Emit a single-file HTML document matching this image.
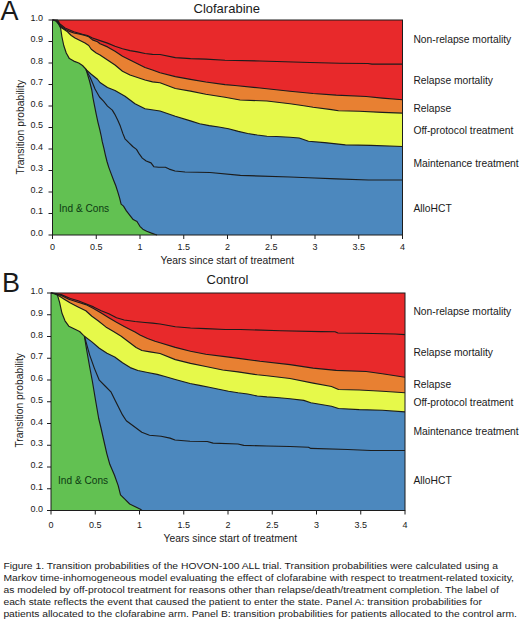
<!DOCTYPE html>
<html><head><meta charset="utf-8"><style>
html,body{margin:0;padding:0;background:#fff;}
svg{display:block;}
text{font-family:"Liberation Sans",sans-serif;fill:#1a1a1a;}
.tk{font-size:9px;}
.lab{font-size:10.3px;}
.ttl{font-size:13px;}
.big{font-size:27px;}
.ax{font-size:10.3px;}
.ic{font-size:10.15px;fill:#0d3a12;}
.cap{font-size:9.7px;}
</style></head><body>
<svg width="520" height="622" viewBox="0 0 520 622">
<rect width="520" height="622" fill="#fff"/>
<rect x="52.5" y="20" width="350.0" height="215" fill="#e8292b"/>
<polygon points="52.50,20.00 56.00,21.00 60.00,25.50 65.00,29.25 68.75,31.10 73.75,33.00 80.00,34.25 85.00,35.50 88.75,36.75 92.50,39.90 97.50,41.75 100.00,43.75 107.50,46.90 115.00,51.25 122.50,56.25 130.00,60.00 137.50,63.75 145.00,67.50 152.50,70.00 160.00,72.80 175.30,76.60 190.50,79.40 205.80,82.00 225.00,84.60 235.00,85.50 260.00,88.00 290.00,91.20 313.10,93.50 336.20,95.10 366.20,96.50 382.30,98.10 402.50,99.70 402.50,235.00 52.50,235.00" fill="#e88032"/>
<polygon points="52.50,20.00 57.00,21.00 60.00,26.75 63.75,29.25 67.50,31.75 71.25,35.50 75.00,38.00 80.00,40.50 85.00,43.00 88.75,45.50 91.25,49.25 96.25,53.00 100.00,55.00 107.50,60.00 115.00,65.00 122.50,71.25 130.00,75.00 137.50,77.50 145.00,80.00 152.50,81.90 160.00,82.70 175.30,88.50 190.50,91.10 205.80,94.20 225.00,97.25 240.00,100.00 266.90,101.00 290.00,103.80 303.80,105.70 313.10,107.30 331.50,109.60 338.50,110.80 359.20,111.20 382.30,112.40 402.50,113.10 402.50,235.00 52.50,235.00" fill="#e6f94a"/>
<polygon points="85.60,69.25 91.25,74.25 97.50,79.25 100.00,82.50 107.50,87.50 115.00,90.50 125.00,96.25 135.00,103.75 145.00,108.75 160.00,111.00 175.30,116.30 190.50,120.90 199.60,123.80 209.20,125.60 218.80,127.00 228.50,128.70 238.30,131.40 247.70,133.50 257.30,135.00 266.90,136.20 276.50,136.50 290.00,137.30 299.20,138.00 308.50,141.20 324.60,142.60 345.40,144.90 370.80,145.40 402.50,146.50 402.50,235.00 85.60,235.00" fill="#4c88be"/>
<polygon points="52.50,20.00 52.50,20.00 57.50,20.00 58.75,21.75 60.60,28.00 61.90,36.75 63.75,45.50 66.25,53.00 69.40,58.60 73.75,61.10 78.75,63.00 82.50,65.50 86.25,69.50 87.50,74.25 89.40,80.50 91.80,90.00 93.00,98.00 94.60,106.10 96.20,114.10 97.90,122.10 99.90,130.20 101.40,137.00 102.20,141.40 103.80,147.90 105.40,155.10 107.00,161.50 108.70,167.10 111.10,173.60 113.50,180.00 115.80,185.80 117.70,191.60 119.70,198.30 121.10,204.10 123.50,206.10 126.40,210.90 129.30,214.70 133.20,219.60 137.00,221.50 139.90,226.30 142.80,229.20 146.70,231.20 151.50,233.10 155.40,234.50 157.00,235.00 52.50,235.00" fill="#62c152"/>
<polyline points="52.50,20.00 56.00,20.50 58.75,23.00 65.00,28.00 73.75,31.75 82.50,34.25 87.50,35.50 92.50,38.00 100.00,40.60 107.50,43.10 115.00,46.25 122.50,48.75 130.00,50.60 137.50,51.90 145.00,53.50 152.50,54.40 160.00,54.50 175.30,57.60 190.50,58.60 205.80,59.10 225.00,60.20 260.00,61.00 285.00,61.75 310.00,62.50 340.00,63.30 368.00,63.50 372.00,64.10 402.50,64.10" fill="none" stroke="#1c1c1c" stroke-width="1.15" stroke-linejoin="round"/>
<polyline points="52.50,20.00 56.00,21.00 60.00,25.50 65.00,29.25 68.75,31.10 73.75,33.00 80.00,34.25 85.00,35.50 88.75,36.75 92.50,39.90 97.50,41.75 100.00,43.75 107.50,46.90 115.00,51.25 122.50,56.25 130.00,60.00 137.50,63.75 145.00,67.50 152.50,70.00 160.00,72.80 175.30,76.60 190.50,79.40 205.80,82.00 225.00,84.60 235.00,85.50 260.00,88.00 290.00,91.20 313.10,93.50 336.20,95.10 366.20,96.50 382.30,98.10 402.50,99.70" fill="none" stroke="#1c1c1c" stroke-width="1.15" stroke-linejoin="round"/>
<polyline points="52.50,20.00 57.00,21.00 60.00,26.75 63.75,29.25 67.50,31.75 71.25,35.50 75.00,38.00 80.00,40.50 85.00,43.00 88.75,45.50 91.25,49.25 96.25,53.00 100.00,55.00 107.50,60.00 115.00,65.00 122.50,71.25 130.00,75.00 137.50,77.50 145.00,80.00 152.50,81.90 160.00,82.70 175.30,88.50 190.50,91.10 205.80,94.20 225.00,97.25 240.00,100.00 266.90,101.00 290.00,103.80 303.80,105.70 313.10,107.30 331.50,109.60 338.50,110.80 359.20,111.20 382.30,112.40 402.50,113.10" fill="none" stroke="#1c1c1c" stroke-width="1.15" stroke-linejoin="round"/>
<polyline points="85.60,69.25 91.25,74.25 97.50,79.25 100.00,82.50 107.50,87.50 115.00,90.50 125.00,96.25 135.00,103.75 145.00,108.75 160.00,111.00 175.30,116.30 190.50,120.90 199.60,123.80 209.20,125.60 218.80,127.00 228.50,128.70 238.30,131.40 247.70,133.50 257.30,135.00 266.90,136.20 276.50,136.50 290.00,137.30 299.20,138.00 308.50,141.20 324.60,142.60 345.40,144.90 370.80,145.40 402.50,146.50" fill="none" stroke="#1c1c1c" stroke-width="1.15" stroke-linejoin="round"/>
<polyline points="86.00,70.00 90.00,77.00 93.00,84.00 95.00,89.00 99.50,97.00 103.50,101.20 107.50,106.10 112.30,110.10 114.70,114.10 117.90,120.50 120.30,126.10 122.80,133.40 125.00,138.80 128.80,142.70 132.70,146.50 136.50,149.40 139.40,154.20 142.30,158.10 146.20,161.00 151.00,162.90 153.80,166.70 158.70,167.20 165.40,167.20 169.20,169.10 175.00,171.00 185.00,172.00 210.00,172.50 240.40,175.40 290.00,177.00 308.50,177.70 336.20,178.90 368.50,180.00 402.50,180.00" fill="none" stroke="#1c1c1c" stroke-width="1.15" stroke-linejoin="round"/>
<polyline points="52.50,20.00 57.50,20.00 58.75,21.75 60.60,28.00 61.90,36.75 63.75,45.50 66.25,53.00 69.40,58.60 73.75,61.10 78.75,63.00 82.50,65.50 86.25,69.50 87.50,74.25 89.40,80.50 91.80,90.00 93.00,98.00 94.60,106.10 96.20,114.10 97.90,122.10 99.90,130.20 101.40,137.00 102.20,141.40 103.80,147.90 105.40,155.10 107.00,161.50 108.70,167.10 111.10,173.60 113.50,180.00 115.80,185.80 117.70,191.60 119.70,198.30 121.10,204.10 123.50,206.10 126.40,210.90 129.30,214.70 133.20,219.60 137.00,221.50 139.90,226.30 142.80,229.20 146.70,231.20 151.50,233.10 155.40,234.50 157.00,235.00" fill="none" stroke="#1c1c1c" stroke-width="1.15" stroke-linejoin="round"/>
<rect x="52.5" y="20" width="350.0" height="215" fill="none" stroke="#1c1c1c" stroke-width="1"/>
<line x1="48.5" y1="235.00" x2="52.5" y2="235.00" stroke="#1c1c1c" stroke-width="1"/>
<text x="43" y="235.50" class="tk" text-anchor="end">0.0</text>
<line x1="48.5" y1="213.50" x2="52.5" y2="213.50" stroke="#1c1c1c" stroke-width="1"/>
<text x="43" y="214.00" class="tk" text-anchor="end">0.1</text>
<line x1="48.5" y1="192.00" x2="52.5" y2="192.00" stroke="#1c1c1c" stroke-width="1"/>
<text x="43" y="192.50" class="tk" text-anchor="end">0.2</text>
<line x1="48.5" y1="170.50" x2="52.5" y2="170.50" stroke="#1c1c1c" stroke-width="1"/>
<text x="43" y="171.00" class="tk" text-anchor="end">0.3</text>
<line x1="48.5" y1="149.00" x2="52.5" y2="149.00" stroke="#1c1c1c" stroke-width="1"/>
<text x="43" y="149.50" class="tk" text-anchor="end">0.4</text>
<line x1="48.5" y1="127.50" x2="52.5" y2="127.50" stroke="#1c1c1c" stroke-width="1"/>
<text x="43" y="128.00" class="tk" text-anchor="end">0.5</text>
<line x1="48.5" y1="106.00" x2="52.5" y2="106.00" stroke="#1c1c1c" stroke-width="1"/>
<text x="43" y="106.50" class="tk" text-anchor="end">0.6</text>
<line x1="48.5" y1="84.50" x2="52.5" y2="84.50" stroke="#1c1c1c" stroke-width="1"/>
<text x="43" y="85.00" class="tk" text-anchor="end">0.7</text>
<line x1="48.5" y1="63.00" x2="52.5" y2="63.00" stroke="#1c1c1c" stroke-width="1"/>
<text x="43" y="63.50" class="tk" text-anchor="end">0.8</text>
<line x1="48.5" y1="41.50" x2="52.5" y2="41.50" stroke="#1c1c1c" stroke-width="1"/>
<text x="43" y="42.00" class="tk" text-anchor="end">0.9</text>
<line x1="48.5" y1="20.00" x2="52.5" y2="20.00" stroke="#1c1c1c" stroke-width="1"/>
<text x="43" y="20.50" class="tk" text-anchor="end">1.0</text>
<line x1="52.50" y1="235" x2="52.50" y2="239" stroke="#1c1c1c" stroke-width="1"/>
<text x="52.50" y="250.40" class="tk" text-anchor="middle">0</text>
<line x1="96.25" y1="235" x2="96.25" y2="239" stroke="#1c1c1c" stroke-width="1"/>
<text x="96.25" y="250.40" class="tk" text-anchor="middle">0.5</text>
<line x1="140.00" y1="235" x2="140.00" y2="239" stroke="#1c1c1c" stroke-width="1"/>
<text x="140.00" y="250.40" class="tk" text-anchor="middle">1</text>
<line x1="183.75" y1="235" x2="183.75" y2="239" stroke="#1c1c1c" stroke-width="1"/>
<text x="183.75" y="250.40" class="tk" text-anchor="middle">1.5</text>
<line x1="227.50" y1="235" x2="227.50" y2="239" stroke="#1c1c1c" stroke-width="1"/>
<text x="227.50" y="250.40" class="tk" text-anchor="middle">2</text>
<line x1="271.25" y1="235" x2="271.25" y2="239" stroke="#1c1c1c" stroke-width="1"/>
<text x="271.25" y="250.40" class="tk" text-anchor="middle">2.5</text>
<line x1="315.00" y1="235" x2="315.00" y2="239" stroke="#1c1c1c" stroke-width="1"/>
<text x="315.00" y="250.40" class="tk" text-anchor="middle">3</text>
<line x1="358.75" y1="235" x2="358.75" y2="239" stroke="#1c1c1c" stroke-width="1"/>
<text x="358.75" y="250.40" class="tk" text-anchor="middle">3.5</text>
<line x1="402.50" y1="235" x2="402.50" y2="239" stroke="#1c1c1c" stroke-width="1"/>
<text x="402.50" y="250.40" class="tk" text-anchor="middle">4</text>
<rect x="51" y="293" width="354" height="217.5" fill="#e8292b"/>
<polygon points="51.00,293.00 55.00,293.80 61.20,295.40 68.80,299.20 78.10,302.30 85.80,304.60 93.50,308.50 101.20,313.10 108.80,317.70 116.50,322.30 124.20,326.50 130.00,329.50 135.00,332.00 140.00,335.00 147.50,338.50 155.00,341.25 160.00,342.80 175.30,347.40 190.50,351.20 205.80,354.30 225.00,356.60 240.40,358.60 260.00,361.25 290.00,364.60 313.10,368.10 336.20,370.40 366.20,371.50 382.30,373.80 405.00,377.30 405.00,510.50 51.00,510.50" fill="#e88032"/>
<polygon points="51.00,293.00 55.00,294.00 59.60,296.20 64.20,299.20 70.40,303.10 78.10,306.90 85.80,310.80 91.90,316.20 98.10,320.80 105.80,326.90 113.50,331.50 121.20,336.20 128.80,342.00 136.10,347.50 141.90,350.50 150.00,351.90 160.00,353.50 175.30,359.60 190.50,363.40 205.80,366.50 222.70,370.00 238.00,371.90 257.30,374.80 266.90,375.80 290.00,378.50 313.10,383.10 331.50,386.50 338.50,389.50 359.20,390.00 382.30,391.20 405.00,392.80 405.00,510.50 51.00,510.50" fill="#e6f94a"/>
<polygon points="84.40,336.20 91.60,341.60 99.30,348.30 107.00,353.20 114.70,357.00 122.50,362.80 130.20,367.60 137.90,370.50 147.60,372.50 157.20,374.40 165.00,376.50 175.30,379.50 190.00,383.50 199.60,385.40 209.20,387.30 218.80,389.20 228.50,391.20 238.00,392.70 247.70,394.00 257.30,396.00 266.90,396.90 276.50,397.50 290.00,398.80 303.80,400.40 310.80,402.70 331.50,406.20 338.50,408.50 359.20,409.60 382.30,410.30 405.00,411.90 405.00,510.50 84.40,510.50" fill="#4c88be"/>
<polygon points="51.00,293.00 51.00,293.00 56.00,293.50 57.30,294.60 59.60,302.30 61.90,313.00 65.00,320.80 68.80,326.20 75.00,329.20 79.60,331.50 83.50,335.40 84.40,336.20 86.50,349.00 89.50,366.00 92.50,382.00 95.50,400.00 98.70,418.50 101.00,428.00 103.70,440.00 106.80,453.60 109.80,464.30 114.40,475.00 118.20,485.60 120.50,494.80 125.10,499.40 129.70,504.00 135.80,507.00 140.40,509.30 142.00,510.50 51.00,510.50" fill="#62c152"/>
<polyline points="51.00,293.00 55.00,293.50 61.20,294.60 70.40,298.50 78.10,300.80 85.80,303.80 93.50,306.90 101.20,310.80 108.80,313.80 116.50,317.70 124.20,320.00 135.00,321.50 145.00,322.50 152.50,323.10 160.00,324.00 175.30,326.80 190.50,328.00 205.80,328.60 225.00,329.50 240.40,329.50 280.80,330.70 321.20,331.60 335.00,331.80 338.00,333.00 361.60,333.30 395.00,334.00 405.00,334.60" fill="none" stroke="#1c1c1c" stroke-width="1.15" stroke-linejoin="round"/>
<polyline points="51.00,293.00 55.00,293.80 61.20,295.40 68.80,299.20 78.10,302.30 85.80,304.60 93.50,308.50 101.20,313.10 108.80,317.70 116.50,322.30 124.20,326.50 130.00,329.50 135.00,332.00 140.00,335.00 147.50,338.50 155.00,341.25 160.00,342.80 175.30,347.40 190.50,351.20 205.80,354.30 225.00,356.60 240.40,358.60 260.00,361.25 290.00,364.60 313.10,368.10 336.20,370.40 366.20,371.50 382.30,373.80 405.00,377.30" fill="none" stroke="#1c1c1c" stroke-width="1.15" stroke-linejoin="round"/>
<polyline points="51.00,293.00 55.00,294.00 59.60,296.20 64.20,299.20 70.40,303.10 78.10,306.90 85.80,310.80 91.90,316.20 98.10,320.80 105.80,326.90 113.50,331.50 121.20,336.20 128.80,342.00 136.10,347.50 141.90,350.50 150.00,351.90 160.00,353.50 175.30,359.60 190.50,363.40 205.80,366.50 222.70,370.00 238.00,371.90 257.30,374.80 266.90,375.80 290.00,378.50 313.10,383.10 331.50,386.50 338.50,389.50 359.20,390.00 382.30,391.20 405.00,392.80" fill="none" stroke="#1c1c1c" stroke-width="1.15" stroke-linejoin="round"/>
<polyline points="84.40,336.20 91.60,341.60 99.30,348.30 107.00,353.20 114.70,357.00 122.50,362.80 130.20,367.60 137.90,370.50 147.60,372.50 157.20,374.40 165.00,376.50 175.30,379.50 190.00,383.50 199.60,385.40 209.20,387.30 218.80,389.20 228.50,391.20 238.00,392.70 247.70,394.00 257.30,396.00 266.90,396.90 276.50,397.50 290.00,398.80 303.80,400.40 310.80,402.70 331.50,406.20 338.50,408.50 359.20,409.60 382.30,410.30 405.00,411.90" fill="none" stroke="#1c1c1c" stroke-width="1.15" stroke-linejoin="round"/>
<polyline points="84.40,336.20 89.70,355.10 94.50,368.60 99.30,380.20 105.10,386.00 110.90,391.80 114.70,399.50 118.60,407.20 122.50,414.90 126.30,420.70 134.10,426.50 141.80,432.30 149.50,435.20 161.10,436.20 170.00,438.10 175.00,440.00 190.00,441.20 207.30,441.50 213.10,443.10 238.00,444.00 243.80,445.40 266.90,446.00 290.00,446.50 308.50,447.20 310.80,448.40 347.70,449.50 370.80,450.50 405.00,450.50" fill="none" stroke="#1c1c1c" stroke-width="1.15" stroke-linejoin="round"/>
<polyline points="51.00,293.00 56.00,293.50 57.30,294.60 59.60,302.30 61.90,313.00 65.00,320.80 68.80,326.20 75.00,329.20 79.60,331.50 83.50,335.40 84.40,336.20 86.50,349.00 89.50,366.00 92.50,382.00 95.50,400.00 98.70,418.50 101.00,428.00 103.70,440.00 106.80,453.60 109.80,464.30 114.40,475.00 118.20,485.60 120.50,494.80 125.10,499.40 129.70,504.00 135.80,507.00 140.40,509.30 142.00,510.50" fill="none" stroke="#1c1c1c" stroke-width="1.15" stroke-linejoin="round"/>
<rect x="51" y="293" width="354" height="217.5" fill="none" stroke="#1c1c1c" stroke-width="1"/>
<line x1="47" y1="510.50" x2="51" y2="510.50" stroke="#1c1c1c" stroke-width="1"/>
<text x="43" y="511.50" class="tk" text-anchor="end">0.0</text>
<line x1="47" y1="488.75" x2="51" y2="488.75" stroke="#1c1c1c" stroke-width="1"/>
<text x="43" y="489.75" class="tk" text-anchor="end">0.1</text>
<line x1="47" y1="467.00" x2="51" y2="467.00" stroke="#1c1c1c" stroke-width="1"/>
<text x="43" y="468.00" class="tk" text-anchor="end">0.2</text>
<line x1="47" y1="445.25" x2="51" y2="445.25" stroke="#1c1c1c" stroke-width="1"/>
<text x="43" y="446.25" class="tk" text-anchor="end">0.3</text>
<line x1="47" y1="423.50" x2="51" y2="423.50" stroke="#1c1c1c" stroke-width="1"/>
<text x="43" y="424.50" class="tk" text-anchor="end">0.4</text>
<line x1="47" y1="401.75" x2="51" y2="401.75" stroke="#1c1c1c" stroke-width="1"/>
<text x="43" y="402.75" class="tk" text-anchor="end">0.5</text>
<line x1="47" y1="380.00" x2="51" y2="380.00" stroke="#1c1c1c" stroke-width="1"/>
<text x="43" y="381.00" class="tk" text-anchor="end">0.6</text>
<line x1="47" y1="358.25" x2="51" y2="358.25" stroke="#1c1c1c" stroke-width="1"/>
<text x="43" y="359.25" class="tk" text-anchor="end">0.7</text>
<line x1="47" y1="336.50" x2="51" y2="336.50" stroke="#1c1c1c" stroke-width="1"/>
<text x="43" y="337.50" class="tk" text-anchor="end">0.8</text>
<line x1="47" y1="314.75" x2="51" y2="314.75" stroke="#1c1c1c" stroke-width="1"/>
<text x="43" y="315.75" class="tk" text-anchor="end">0.9</text>
<line x1="47" y1="293.00" x2="51" y2="293.00" stroke="#1c1c1c" stroke-width="1"/>
<text x="43" y="294.00" class="tk" text-anchor="end">1.0</text>
<line x1="51.00" y1="510.5" x2="51.00" y2="514.5" stroke="#1c1c1c" stroke-width="1"/>
<text x="51.00" y="528.10" class="tk" text-anchor="middle">0</text>
<line x1="95.25" y1="510.5" x2="95.25" y2="514.5" stroke="#1c1c1c" stroke-width="1"/>
<text x="95.25" y="528.10" class="tk" text-anchor="middle">0.5</text>
<line x1="139.50" y1="510.5" x2="139.50" y2="514.5" stroke="#1c1c1c" stroke-width="1"/>
<text x="139.50" y="528.10" class="tk" text-anchor="middle">1</text>
<line x1="183.75" y1="510.5" x2="183.75" y2="514.5" stroke="#1c1c1c" stroke-width="1"/>
<text x="183.75" y="528.10" class="tk" text-anchor="middle">1.5</text>
<line x1="228.00" y1="510.5" x2="228.00" y2="514.5" stroke="#1c1c1c" stroke-width="1"/>
<text x="228.00" y="528.10" class="tk" text-anchor="middle">2</text>
<line x1="272.25" y1="510.5" x2="272.25" y2="514.5" stroke="#1c1c1c" stroke-width="1"/>
<text x="272.25" y="528.10" class="tk" text-anchor="middle">2.5</text>
<line x1="316.50" y1="510.5" x2="316.50" y2="514.5" stroke="#1c1c1c" stroke-width="1"/>
<text x="316.50" y="528.10" class="tk" text-anchor="middle">3</text>
<line x1="360.75" y1="510.5" x2="360.75" y2="514.5" stroke="#1c1c1c" stroke-width="1"/>
<text x="360.75" y="528.10" class="tk" text-anchor="middle">3.5</text>
<line x1="405.00" y1="510.5" x2="405.00" y2="514.5" stroke="#1c1c1c" stroke-width="1"/>
<text x="405.00" y="528.10" class="tk" text-anchor="middle">4</text>
<text x="0.5" y="19.8" class="big">A</text>
<text x="2" y="291.8" class="big">B</text>
<text x="193.5" y="12.5" class="ttl">Clofarabine</text>
<text x="206.5" y="283.8" class="ttl">Control</text>
<text x="160.5" y="263.5" class="ax">Years since start of treatment</text>
<text x="163.5" y="541.7" class="ax">Years since start of treatment</text>
<text transform="translate(23.6,174.5) rotate(-90)" class="ax">Transition probability</text>
<text transform="translate(22.8,447.6) rotate(-90)" class="ax">Transition probability</text>
<text x="59" y="211.8" class="ic">Ind &amp; Cons</text>
<text x="58" y="484" class="ic">Ind &amp; Cons</text>
<text x="413.4" y="43.3" class="lab">Non-relapse mortality</text>
<text x="413.4" y="83.8" class="lab">Relapse mortality</text>
<text x="413.4" y="111.9" class="lab">Relapse</text>
<text x="413.4" y="134.4" class="lab">Off-protocol treatment</text>
<text x="413.4" y="167" class="lab">Maintenance treatment</text>
<text x="413.4" y="212.3" class="lab">AlloHCT</text>
<text x="413.4" y="315.4" class="lab">Non-relapse mortality</text>
<text x="413.4" y="355.6" class="lab">Relapse mortality</text>
<text x="413.4" y="388.4" class="lab">Relapse</text>
<text x="413.4" y="406" class="lab">Off-protocol treatment</text>
<text x="413.4" y="435" class="lab">Maintenance treatment</text>
<text x="413.4" y="484" class="lab">AlloHCT</text>
<text x="3.4" y="569.3" class="cap" textLength="494.5" lengthAdjust="spacingAndGlyphs">Figure 1. Transition probabilities of the HOVON-100 ALL trial. Transition probabilities were calculated using a</text>
<text x="3.4" y="581.1" class="cap" textLength="510.5" lengthAdjust="spacingAndGlyphs">Markov time-inhomogeneous model evaluating the effect of clofarabine with respect to treatment-related toxicity,</text>
<text x="3.4" y="593.0" class="cap" textLength="495.5" lengthAdjust="spacingAndGlyphs">as modeled by off-protocol treatment for reasons other than relapse/death/treatment completion. The label of</text>
<text x="3.4" y="604.8" class="cap" textLength="478.5" lengthAdjust="spacingAndGlyphs">each state reflects the event that caused the patient to enter the state. Panel A: transition probabilities for</text>
<text x="3.4" y="616.6" class="cap" textLength="513.5" lengthAdjust="spacingAndGlyphs">patients allocated to the clofarabine arm. Panel B: transition probabilities for patients allocated to the control arm.</text>
</svg>
</body></html>
